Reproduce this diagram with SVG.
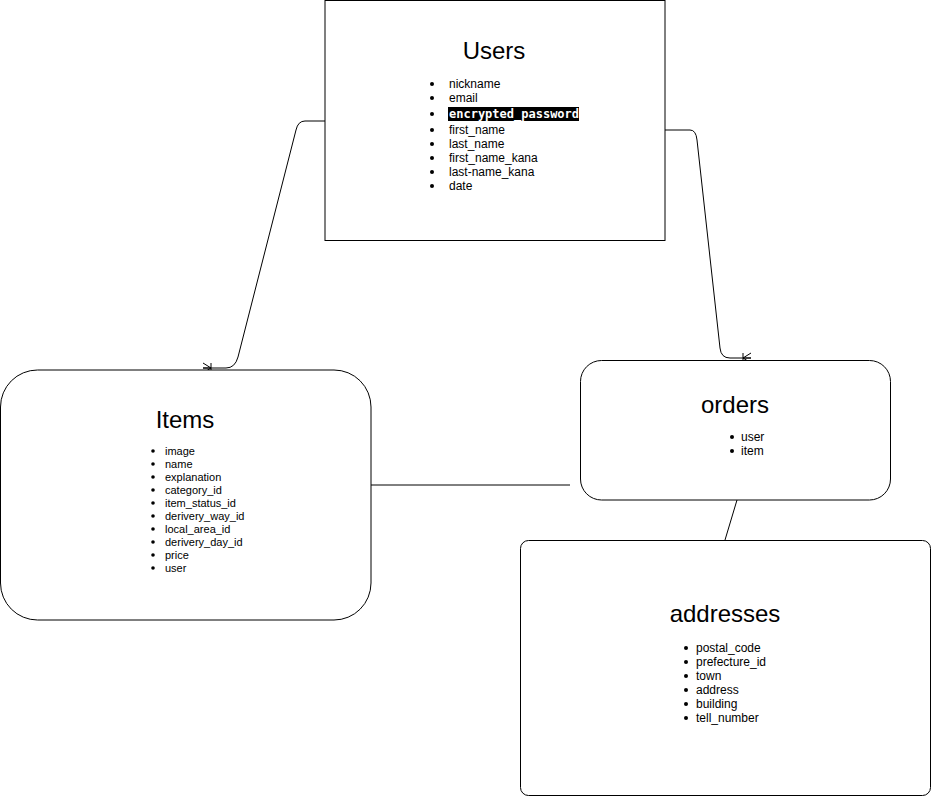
<svg xmlns="http://www.w3.org/2000/svg" width="931" height="796" viewBox="0 0 931 796">
<style>
.box{fill:#fff;stroke:#000;stroke-width:1}
.title{font-family:"Liberation Sans",Arial,sans-serif;font-size:24px;fill:#000;text-anchor:middle}
.li{font-family:"Liberation Sans",Arial,sans-serif;font-size:12px;fill:#000}
.lis{font-family:"Liberation Sans",Arial,sans-serif;font-size:11px;fill:#000}
.conn{fill:none;stroke:#000;stroke-width:1}
</style>
<defs>
<marker id="many" markerWidth="12" markerHeight="14" refX="8" refY="7" orient="auto" markerUnits="userSpaceOnUse" overflow="visible">
<path d="M8,2 L0,7 L8,12 M0,7 L8,7 M0,2 L0,12" fill="none" stroke="#000" stroke-width="1"/>
</marker>
</defs>
<rect width="931" height="796" fill="#fff"/>
<g id="connectors">
<path class="conn" d="M325,121 L305,121 Q298,121 296,130 L238,357 Q235,368 226,368 L203,368" marker-end="url(#many)"/>
<path class="conn" d="M665,130 L690,130 Q696,130 697,140 L720,348 Q721,358 730,358 L751,358" marker-end="url(#many)"/>
<path class="conn" d="M371,485 L570,485"/>
<path class="conn" d="M740,490 L725,540"/>
</g>
<g id="users">
<rect class="box" x="325" y="0.5" width="340" height="240"/>
<text class="title" x="494" y="59">Users</text>
<g class="li">
<circle cx="432" cy="84" r="2"/><text x="449" y="88">nickname</text>
<circle cx="432" cy="98" r="2"/><text x="449" y="102">email</text>
<circle cx="432" cy="114" r="2"/><rect x="448" y="107" width="131" height="14" fill="#000"/><text x="449" y="118" font-family="'DejaVu Sans Mono','Liberation Mono',monospace" font-size="12" font-weight="bold" fill="#fff">encrypted_password</text>
<circle cx="432" cy="130" r="2"/><text x="449" y="134">first_name</text>
<circle cx="432" cy="144" r="2"/><text x="449" y="148">last_name</text>
<circle cx="432" cy="158" r="2"/><text x="449" y="162">first_name_kana</text>
<circle cx="432" cy="172" r="2"/><text x="449" y="176">last-name_kana</text>
<circle cx="432" cy="186" r="2"/><text x="449" y="190">date</text>
</g>
</g>
<g id="items">
<rect class="box" x="0.5" y="370" width="370.5" height="250" rx="37" ry="37"/>
<text class="title" x="185" y="428">Items</text>
<g class="lis">
<circle cx="153" cy="451" r="1.8"/><text x="165" y="455">image</text>
<circle cx="153" cy="464" r="1.8"/><text x="165" y="468">name</text>
<circle cx="153" cy="477" r="1.8"/><text x="165" y="481">explanation</text>
<circle cx="153" cy="490" r="1.8"/><text x="165" y="494">category_id</text>
<circle cx="153" cy="503" r="1.8"/><text x="165" y="507">item_status_id</text>
<circle cx="153" cy="516" r="1.8"/><text x="165" y="520">derivery_way_id</text>
<circle cx="153" cy="529" r="1.8"/><text x="165" y="533">local_area_id</text>
<circle cx="153" cy="542" r="1.8"/><text x="165" y="546">derivery_day_id</text>
<circle cx="153" cy="555" r="1.8"/><text x="165" y="559">price</text>
<circle cx="153" cy="568" r="1.8"/><text x="165" y="572">user</text>
</g>
</g>
<g id="orders">
<rect class="box" x="580.5" y="360.5" width="310" height="139.5" rx="21" ry="21"/>
<text class="title" x="735" y="413">orders</text>
<g class="li">
<circle cx="732" cy="437" r="2"/><text x="741" y="441">user</text>
<circle cx="732" cy="451" r="2"/><text x="741" y="455">item</text>
</g>
</g>
<g id="addresses">
<rect class="box" x="520.5" y="540.5" width="410" height="255" rx="8" ry="8"/>
<text class="title" x="725" y="622">addresses</text>
<g class="li">
<circle cx="686" cy="648" r="2"/><text x="696" y="652">postal_code</text>
<circle cx="686" cy="662" r="2"/><text x="696" y="666">prefecture_id</text>
<circle cx="686" cy="676" r="2"/><text x="696" y="680">town</text>
<circle cx="686" cy="690" r="2"/><text x="696" y="694">address</text>
<circle cx="686" cy="704" r="2"/><text x="696" y="708">building</text>
<circle cx="686" cy="718" r="2"/><text x="696" y="722">tell_number</text>
</g>
</g>
</svg>
